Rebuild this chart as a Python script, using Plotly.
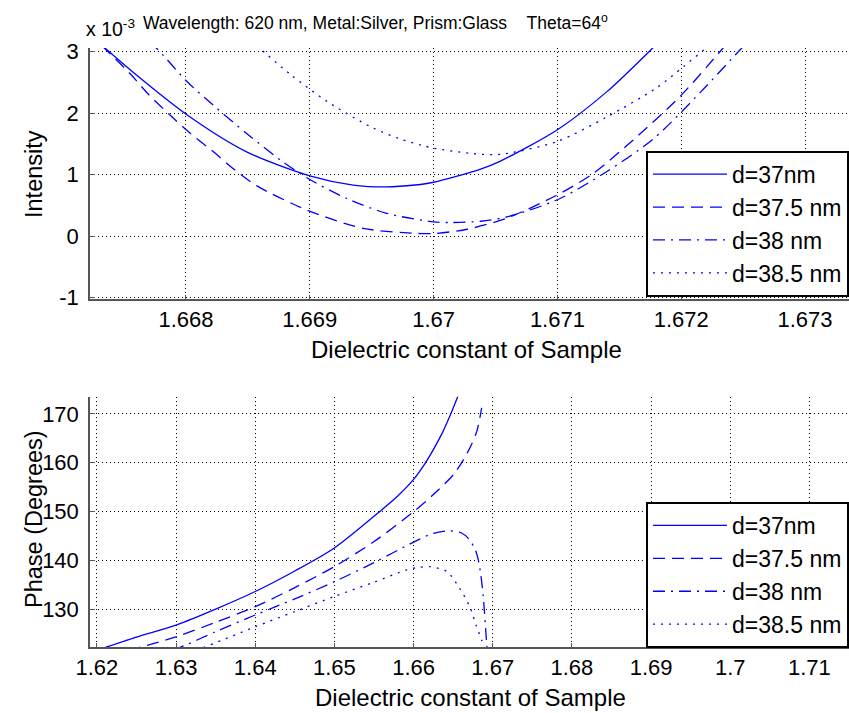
import plotly.graph_objects as go

W, H = 849, 713

# ---------------- data ----------------
names = ["d=37nm", "d=37.5 nm", "d=38 nm", "d=38.5 nm"]

# Top panel: Intensity (x 10^-3) vs dielectric constant
top_x_37 = [1.66734, 1.66760, 1.66801, 1.66849, 1.66900, 1.66935, 1.66962, 1.66985, 1.67000,
            1.67038, 1.67054, 1.67100, 1.67140, 1.67177, 1.67185]
top_y_37 = [3.07, 2.62, 1.97, 1.37, 0.98, 0.83, 0.80, 0.83, 0.875, 1.09, 1.22, 1.73, 2.35, 3.06, 3.22]

top_x_375 = [1.66732, 1.66755, 1.66770, 1.66786, 1.66803, 1.66821, 1.66838, 1.66857, 1.66898,
             1.66943, 1.66984, 1.67000, 1.67027, 1.67059, 1.67100, 1.67129, 1.67161, 1.67199,
             1.67233, 1.67242]
top_y_375 = [3.10, 2.64, 2.30, 1.99, 1.68, 1.39, 1.10, 0.82, 0.42, 0.125, 0.045, 0.04, 0.11, 0.29,
             0.67, 1.02, 1.56, 2.27, 3.04, 3.25]

top_x_38 = [1.66770, 1.66776, 1.66801, 1.66822, 1.66849, 1.66876, 1.66900, 1.66930, 1.66962,
            1.67000, 1.67015, 1.67038, 1.67059, 1.67100, 1.67140, 1.67178, 1.67216, 1.67248, 1.67256]
top_y_38 = [3.15, 3.06, 2.51, 2.13, 1.67, 1.24, 0.92, 0.61, 0.37, 0.23, 0.22, 0.24, 0.31, 0.59,
            1.05, 1.59, 2.35, 3.04, 3.20]

top_x_385 = [1.66857, 1.66885, 1.66914, 1.66950, 1.66973, 1.66990, 1.67000, 1.67032, 1.67054,
             1.67100, 1.67140, 1.67180, 1.67202, 1.67219, 1.67226]
top_y_385 = [3.10, 2.62, 2.19, 1.77, 1.58, 1.48, 1.43, 1.34, 1.33, 1.54, 1.94, 2.41, 2.76, 3.04, 3.15]

# Bottom panel: Phase (degrees) vs dielectric constant
bot_x_37 = [1.6200, 1.6250, 1.6301, 1.6350, 1.6400, 1.6450, 1.6500, 1.6557, 1.6580, 1.6600,
            1.6615, 1.6625, 1.6636, 1.6646, 1.6656, 1.6662]
bot_y_37 = [121.7, 124.4, 126.9, 130.1, 133.7, 137.9, 142.6, 150.0, 153.2, 156.6, 160.0, 162.7,
            166.0, 169.6, 173.6, 176.2]

bot_x_375 = [1.6240, 1.6254, 1.6301, 1.6350, 1.6400, 1.6450, 1.6500, 1.6550, 1.6600, 1.6625,
             1.6652, 1.6671, 1.6680, 1.6686]
bot_y_375 = [121.8, 122.3, 124.5, 127.4, 130.6, 134.5, 138.8, 143.9, 150.0, 153.5, 157.9, 163.0,
             166.5, 171.2]

bot_x_38 = [1.6295, 1.6305, 1.6350, 1.6400, 1.6450, 1.6500, 1.6550, 1.6600, 1.6625, 1.6645,
            1.6660, 1.6670, 1.6678, 1.6682, 1.6685, 1.6688, 1.6692, 1.6694]
bot_y_38 = [121.9, 122.3, 125.5, 128.9, 132.2, 135.7, 139.6, 143.8, 145.6, 146.1, 145.7, 144.4,
            142.2, 140.0, 137.0, 132.7, 123.8, 119.0]

bot_x_385 = [1.6325, 1.6335, 1.6400, 1.6450, 1.6500, 1.6550, 1.6591, 1.6605, 1.6620, 1.6642,
             1.6658, 1.6671, 1.6679, 1.6686, 1.6690]
bot_y_385 = [121.8, 122.3, 126.5, 129.6, 132.7, 135.6, 138.1, 138.6, 138.8, 137.8, 134.4, 130.6,
             126.8, 123.8, 121.5]

top_xticks = [1.668, 1.669, 1.670, 1.671, 1.672, 1.673]
top_xtext = ["1.668", "1.669", "1.67", "1.671", "1.672", "1.673"]
top_yticks = [-1, 0, 1, 2, 3]
top_ytext = ["-1", "0", "1", "2", "3"]
bot_xticks = [1.62, 1.63, 1.64, 1.65, 1.66, 1.67, 1.68, 1.69, 1.70, 1.71]
bot_xtext = ["1.62", "1.63", "1.64", "1.65", "1.66", "1.67", "1.68", "1.69", "1.7", "1.71"]
bot_yticks = [130, 140, 150, 160, 170]

# ---------------- styling ----------------
FONT = "Liberation Sans, Arial, Helvetica, sans-serif"
BLUE = "rgb(0,0,255)"
dashes = ["solid", "12px,7px", "12px,6px,2px,6px", "2px,6px"]

def px_x(p):
    return p / W

def px_y(p):
    return 1 - p / H

fig = go.Figure()

top_sets = [(top_x_37, top_y_37), (top_x_375, top_y_375), (top_x_38, top_y_38), (top_x_385, top_y_385)]
bot_sets = [(bot_x_37, bot_y_37), (bot_x_375, bot_y_375), (bot_x_38, bot_y_38), (bot_x_385, bot_y_385)]

for i, (xs, ys) in enumerate(top_sets):
    fig.add_trace(go.Scatter(x=xs, y=ys, mode="lines", name=names[i],
                             line=dict(color=BLUE, width=1.3, dash=dashes[i], shape="spline", smoothing=0.8),
                             xaxis="x", yaxis="y", legend="legend"))
for i, (xs, ys) in enumerate(bot_sets):
    fig.add_trace(go.Scatter(x=xs, y=ys, mode="lines", name=names[i],
                             line=dict(color=BLUE, width=1.3, dash=dashes[i], shape="spline", smoothing=0.8),
                             xaxis="x2", yaxis="y2", legend="legend2"))

axis_common = dict(showline=True, linecolor="#555555", linewidth=1.5, ticks="inside", ticklen=5,
                   tickcolor="#555555", tickwidth=1, showgrid=True, gridcolor="black", gridwidth=1,
                   griddash="1px,3px", zeroline=False, tickfont=dict(family=FONT, size=22, color="black"),
                   mirror=False, automargin=False)

x_dom = [px_x(90), 1.0]
leg_common = dict(x=1, xanchor="right", yanchor="bottom", bgcolor="white",
                  bordercolor="black", borderwidth=2, font=dict(family=FONT, size=23, color="black"),
                  itemwidth=74, tracegroupgap=0)
fig.update_layout(
    width=W, height=H, autosize=False,
    margin=dict(l=0, r=0, t=0, b=0, pad=0, autoexpand=False),
    paper_bgcolor="white", plot_bgcolor="white",
    font=dict(family=FONT, color="black"),
    xaxis=dict(domain=x_dom, range=[1.667225, 1.673355], tickvals=top_xticks, ticktext=top_xtext,
               anchor="y", **axis_common),
    yaxis=dict(domain=[px_y(299.3), px_y(48)], range=[-1.03, 3.06], tickvals=top_yticks,
               ticktext=top_ytext, anchor="x", ticklabelstandoff=5, **axis_common),
    xaxis2=dict(domain=x_dom, range=[1.61913, 1.7150], tickvals=bot_xticks, ticktext=bot_xtext,
                anchor="y2", **axis_common),
    yaxis2=dict(domain=[px_y(647.3), px_y(396.7)], range=[122.3, 173.5], tickvals=bot_yticks,
                anchor="x2", ticklabelstandoff=5, **axis_common),
    legend=dict(y=px_y(296.7), **leg_common),
    legend2=dict(y=px_y(648), **leg_common),
    showlegend=True,
)

ann = [
    dict(text="x 10<sup>-3</sup>", x=px_x(84), y=px_y(28), xanchor="left", yanchor="middle",
         font=dict(size=19.5)),
    dict(text="Wavelength: 620 nm, Metal:Silver, Prism:Glass\u00a0\u00a0\u00a0\u00a0Theta=64<sup>o</sup>",
         x=px_x(141), y=px_y(22), xanchor="left", yanchor="middle", font=dict(size=17.5)),
    dict(text="Intensity", x=px_x(34), y=px_y(174), textangle=-90, xanchor="center", yanchor="middle",
         font=dict(size=23.5)),
    dict(text="Phase (Degrees)", x=px_x(34), y=px_y(519), textangle=-90, xanchor="center", yanchor="middle",
         font=dict(size=23.5)),
    dict(text="Dielectric constant of Sample", x=px_x(466), y=px_y(350), xanchor="center", yanchor="middle",
         font=dict(size=24)),
    dict(text="Dielectric constant of Sample", x=px_x(470), y=px_y(697), xanchor="center", yanchor="middle",
         font=dict(size=24)),
]
for a in ann:
    a.update(xref="paper", yref="paper", showarrow=False)
    a["font"].update(family=FONT, color="black")
fig.update_layout(annotations=ann)

fig.write_html("out.html",
               post_script="document.body.style.margin='0';document.body.style.overflow='hidden';")
